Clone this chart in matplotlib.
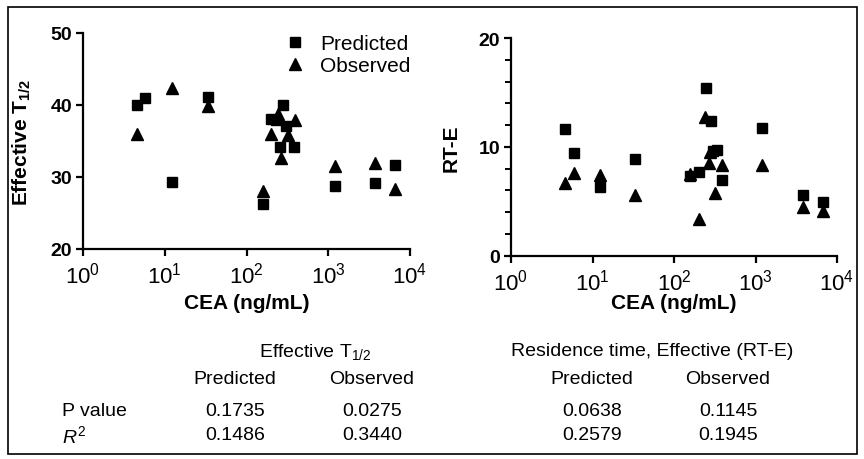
import matplotlib

matplotlib.use("Agg")
import matplotlib.pyplot as plt
from matplotlib.lines import Line2D
from matplotlib.patches import Rectangle
from matplotlib.ticker import FixedLocator, MultipleLocator, NullLocator

plt.rcParams["font.family"] = ["Liberation Sans", "DejaVu Sans"]
plt.rcParams["mathtext.fontset"] = "custom"
plt.rcParams["mathtext.rm"] = "Liberation Sans"
plt.rcParams["mathtext.it"] = "Liberation Sans:italic"
plt.rcParams["mathtext.bf"] = "Liberation Sans:bold"

# Effective T1/2 vs CEA
t12_pred_cea = [4.6, 5.8, 12.3, 33.4, 159, 200, 232, 259, 282, 300, 385, 1220, 3770, 6600]
t12_pred = [40.0, 41.0, 29.3, 41.1, 26.3, 38.0, 37.9, 34.2, 40.0, 37.0, 34.2, 28.8, 29.2, 31.7]
t12_obs_cea = [4.6, 12.3, 33.4, 159, 200, 245, 263, 318, 389, 1220, 3770, 6600]
t12_obs = [35.9, 42.3, 39.9, 28.0, 36.0, 38.7, 32.6, 35.8, 37.9, 31.5, 31.9, 28.3]

# Residence time, effective (RT-E) vs CEA
rte_pred_cea = [4.6, 5.9, 12.2, 33.5, 159, 201, 247, 287, 300, 334, 389, 1200, 3830, 6680]
rte_pred = [11.6, 9.4, 6.3, 8.9, 7.3, 7.7, 15.4, 12.4, 9.6, 9.7, 7.0, 11.7, 5.6, 4.9]
rte_obs_cea = [4.6, 5.9, 12.2, 33.5, 159, 201, 240, 266, 276, 321, 389, 1200, 3830, 6680]
rte_obs = [6.7, 7.6, 7.4, 5.6, 7.5, 3.4, 12.7, 8.5, 9.5, 5.8, 8.3, 8.3, 4.5, 4.1]

decades = [1, 10, 100, 1000, 10000]
decade_labels = [r"$10^{%d}$" % i for i in range(5)]

# statistics table
stat_rows = ["P value", r"$R^2$"]
stat_cols = ["Predicted", "Observed", "Predicted", "Observed"]
stat_values = [
    ["0.1735", "0.0275", "0.0638", "0.1145"],
    ["0.1486", "0.3440", "0.2579", "0.1945"],
]
stat_groups = [r"Effective T$_{1/2}$", "Residence time, Effective (RT-E)"]

W, H = 864, 460
fig = plt.figure(figsize=(W / 100, H / 100), dpi=100)


def px(x, y):
    return x / W, 1 - y / H


def box(x0, y0, x1, y1):
    return [x0 / W, 1 - y1 / H, (x1 - x0) / W, (y1 - y0) / H]


def style_axes(ax, ylim, yticks, yminor, ylabel, xlabel_top):
    ax.set_xscale("log")
    ax.set_xlim(1, 1e4)
    ax.set_ylim(*ylim)
    for s in ("top", "right"):
        ax.spines[s].set_visible(False)
    for s in ("left", "bottom"):
        ax.spines[s].set_linewidth(1.6)
    ax.xaxis.set_major_locator(FixedLocator(decades))
    ax.xaxis.set_minor_locator(NullLocator())
    ax.set_xticklabels(decade_labels)
    ax.set_yticks(yticks)
    if yminor:
        ax.yaxis.set_minor_locator(MultipleLocator(yminor))
    ax.tick_params(axis="both", which="major", direction="out", width=1.6,
                   length=5, labelsize=14, pad=3)
    ax.tick_params(axis="y", which="minor", direction="out", width=1.4, length=4)
    ax.tick_params(axis="x", pad=4, labelsize=16)
    for lab in ax.get_yticklabels():
        lab.set_fontweight("bold")
    ax.set_ylabel(ylabel, fontsize=15, fontweight="bold")
    ax.yaxis.set_label_coords(-0.153, 0.5)
    ax.set_xlabel("CEA (ng/mL)", fontsize=15, fontweight="bold")
    ax.xaxis.set_label_coords(0.5, xlabel_top)


mk = dict(color="black", linestyle="none", clip_on=False)

ax1 = fig.add_axes(box(83, 33.7, 410, 250))
ax1.plot(t12_pred_cea, t12_pred, marker="s", markersize=7.8, **mk)
ax1.plot(t12_obs_cea, t12_obs, marker="^", markersize=8.8, **mk)
style_axes(ax1, (20, 50), [20, 30, 40, 50], None,
           r"Effective T$_{\mathbf{1/2}}$", -44 / 216.3)

handles = [
    Line2D([], [], marker="s", markersize=7.8, **mk),
    Line2D([], [], marker="^", markersize=8.8, **mk),
]
ax1.legend(handles, ["Predicted", "Observed"], loc="upper left",
           bbox_to_anchor=(0.565, 1.08), frameon=False, fontsize=15,
           handlelength=0.8, handletextpad=0.8, labelspacing=0.15)

ax2 = fig.add_axes(box(511, 39, 837, 256.7))
ax2.plot(rte_pred_cea, rte_pred, marker="s", markersize=7.8, **mk)
ax2.plot(rte_obs_cea, rte_obs, marker="^", markersize=8.8, **mk)
style_axes(ax2, (0, 20), [0, 10, 20], 2, "RT-E", -37 / 217.7)

# table below the plots
group_x = [315, 652]
col_x = [235, 372, 592, 728]
for gx, g in zip(group_x, stat_groups):
    fig.text(*px(gx, 352), g, fontsize=14, ha="center", va="center")
for cx, c in zip(col_x, stat_cols):
    fig.text(*px(cx, 380), c, fontsize=14, ha="center", va="center")
row_y = [412, 436]
for ry, name, vals in zip(row_y, stat_rows, stat_values):
    fig.text(*px(62, ry), name, fontsize=14, ha="left", va="center")
    for cx, v in zip(col_x, vals):
        fig.text(*px(cx, ry), v, fontsize=14, ha="center", va="center")

# frame around the figure
fig.patches.append(Rectangle(px(8, 455), (857 - 8) / W, (455 - 8) / H,
                             transform=fig.transFigure, fill=False,
                             edgecolor="black", linewidth=1.2))

fig.savefig("out.png", dpi=100)
